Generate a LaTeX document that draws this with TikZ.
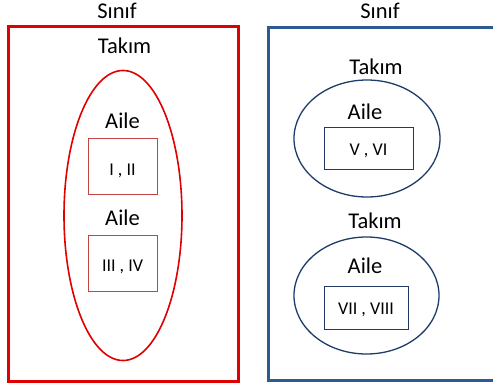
\documentclass[tikz,border=0pt]{standalone}
\usepackage{fontspec}
\setmainfont{Carlito}
\usetikzlibrary{shapes.geometric}
\definecolor{redouter}{RGB}{225,0,0}
\definecolor{redinner}{RGB}{192,70,70}
\definecolor{blueouter}{RGB}{45,90,145}
\definecolor{blueell}{RGB}{30,60,105}
\definecolor{blueinner}{RGB}{35,55,100}
\tikzset{
  big/.style={font=\fontsize{22.5}{26}\selectfont, inner sep=0pt, anchor=base},
  small/.style={font=\fontsize{18}{21}\selectfont, inner sep=0pt, anchor=base},
  redframe/.style={draw=redouter, line width=3pt},
  redell/.style={draw=redouter, line width=1.6pt, ellipse, inner sep=0pt},
  redbox/.style={draw=redinner, line width=1pt, rectangle, inner sep=0pt},
  blueframe/.style={draw=blueouter, line width=3pt},
  blueellipse/.style={draw=blueell, line width=1.3pt, ellipse, inner sep=0pt},
  bluebox/.style={draw=blueinner, line width=1pt, rectangle, inner sep=0pt},
}
\begin{document}
\begin{tikzpicture}[x=1pt,y=-1pt]
\useasboundingbox[fill=white] (0,0) rectangle (493,386);
% left
\draw[redframe] (8,26) rectangle (238,381);
\node[big] (sinifL) at (117,18) {Sınıf};
\node[big] (takimL) at (124.5,53) {Takım};
\node[redell, minimum width=118pt, minimum height=290pt] (ellL) at (123,215.5) {};
\node[big] (aile1) at (122.5,128) {Aile};
\node[redbox, minimum width=69pt, minimum height=56pt] (box1) at (122.5,166) {};
\node[small] (t1) at (122.5,175) {I , II};
\node[big] (aile2) at (122.5,225) {Aile};
\node[redbox, minimum width=69pt, minimum height=56pt] (box2) at (122.5,263) {};
\node[small] (t2) at (122.5,271) {III , IV};
% right
\draw[blueframe] (268,27) rectangle (505,380);
\node[big] (sinifR) at (380,18) {Sınıf};
\node[big] (takimR1) at (376,74) {Takım};
\node[blueellipse, minimum width=146pt, minimum height=117pt] (ellR1) at (367,138.5) {};
\node[big] (aile3) at (365,119) {Aile};
\node[bluebox, minimum width=89pt, minimum height=42pt] (box3) at (368.5,148) {};
\node[small] (t3) at (368.5,155) {V , VI};
\node[big] (takimR2) at (375,228) {Takım};
\node[blueellipse, minimum width=145pt, minimum height=117pt] (ellR2) at (366.5,295.5) {};
\node[big] (aile4) at (365,273) {Aile};
\node[bluebox, minimum width=84pt, minimum height=43pt] (box4) at (366,307.5) {};
\node[small] (t4) at (366,314) {VII , VIII};
\end{tikzpicture}
\end{document}
